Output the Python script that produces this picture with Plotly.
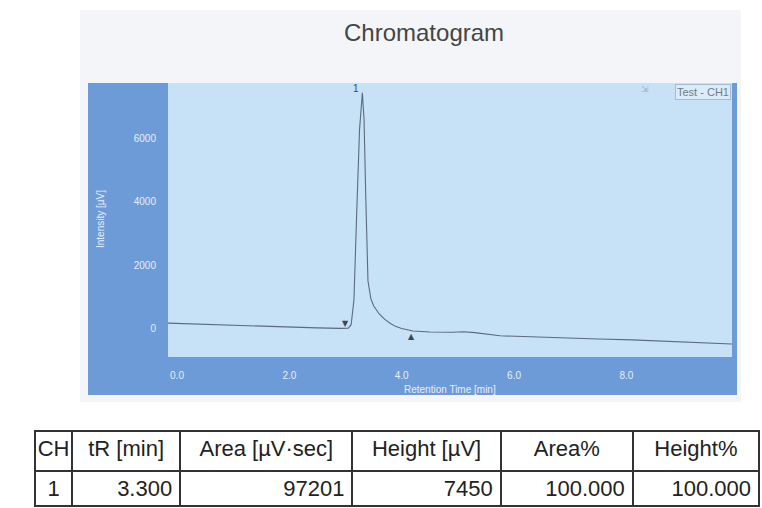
import numpy as np
import plotly.graph_objects as go

# ---- data -------------------------------------------------------------
PEAK_TR = 3.300        # retention time of peak 1 [min]
PEAK_HEIGHT = 7450     # peak height [uV]
PEAK_AREA = 97201      # peak area [uV*sec]
PEAK_START = 3.00      # integration start [min]
PEAK_END = 4.17        # integration end [min]

times = [-0.16, 0.5, 1.0, 1.5, 2.0, 2.5, 2.9, 3.00, 3.05, 3.10, 3.15, 3.20,
         3.25, PEAK_TR, 3.33, 3.36, 3.40, 3.45, 3.50, 3.60, 3.70, 3.80, 3.90,
         4.00, 4.10, 4.20, 4.50, 4.90, 5.10, 5.30, 5.75, 6.50, 7.00, 7.50,
         8.10, 9.00, 9.88]
intensity = [170, 130, 95, 70, 45, 20, 5, 0, 10, 120, 900, 3700,
             6300, PEAK_HEIGHT, 6600, 4200, 1500, 950, 720, 460, 290, 160, 60,
             0, -50, -80, -110, -120, -100, -130, -230, -280, -300, -330,
             -360, -420, -490]

x_ticks = [0, 2, 4, 6, 8]
x_tick_text = ["0.0", "2.0", "4.0", "6.0", "8.0"]
y_ticks = [0, 2000, 4000, 6000]
y_tick_text = ["0", "2000", "4000", "6000"]

table_header = ["CH", "tR [min]", "Area [µV·sec]", "Height [µV]", "Area%", "Height%"]
table_channel = [1]
table_tr = [PEAK_TR]
table_area = [PEAK_AREA]
table_height = [PEAK_HEIGHT]
table_area_pct = [100.000]
table_height_pct = [100.000]

# ---- geometry helpers (pixel -> paper) --------------------------------
W, H = 762, 508


def px(x):
    return x / W


def py(y):
    return (H - y) / H


PANEL_BLUE = "#6d9bd8"
PLOT_BLUE = "#c7e1f6"
LABEL_COL = "#e6eef9"

fig = go.Figure()

fig.add_trace(go.Scatter(
    x=times, y=intensity, mode="lines",
    line=dict(color="#5b6b7c", width=1.1),
    name="Test - CH1", showlegend=False, hoverinfo="skip",
    xaxis="x", yaxis="y",
))

fig.add_trace(go.Table(
    domain=dict(x=[px(35), px(759)], y=[0, py(431)]),
    columnwidth=[37, 108, 172, 148, 132, 126],
    header=dict(
        values=table_header, height=40, align="center",
        fill_color="white", line=dict(color="#333333", width=2),
        font=dict(family="Liberation Sans", size=22, color="#222222"),
    ),
    cells=dict(
        values=[table_channel,
                [f"{v:.3f}" for v in table_tr],
                [f"{v}" for v in table_area],
                [f"{v}" for v in table_height],
                [f"{v:.3f}" for v in table_area_pct],
                [f"{v:.3f}" for v in table_height_pct]],
        height=35, align=["center", "right", "right", "right", "right", "right"],
        fill_color="white", line=dict(color="#333333", width=2),
        font=dict(family="Liberation Sans", size=22, color="#222222"),
    ),
))

# background frame, blue panel and plotting area
shapes = [
    dict(type="rect", xref="paper", yref="paper", layer="below",
         x0=px(80), x1=px(741), y0=py(402), y1=py(10),
         fillcolor="#f3f5f8", line=dict(width=0)),
    dict(type="rect", xref="paper", yref="paper", layer="below",
         x0=px(88), x1=px(737), y0=py(395), y1=py(83),
         fillcolor=PANEL_BLUE, line=dict(width=0)),
    dict(type="rect", xref="x domain", yref="y domain", layer="below",
         x0=0, x1=1, y0=0, y1=1,
         fillcolor=PLOT_BLUE, line=dict(width=0)),
]

peak_start_y = float(np.interp(PEAK_START, times, intensity))
peak_end_y = float(np.interp(PEAK_END, times, intensity))

annotations = [
    dict(text="Chromatogram", xref="paper", yref="paper",
         x=px(424), y=py(32), xanchor="center", yanchor="middle",
         showarrow=False,
         font=dict(family="Liberation Sans", size=24, color="#454545")),
    dict(text="Intensity [µV]", xref="paper", yref="paper",
         x=px(100), y=py(219), xanchor="center", yanchor="middle",
         showarrow=False, textangle=-90,
         font=dict(family="Liberation Sans", size=10, color=LABEL_COL)),
    dict(text="Retention Time [min]", xref="paper", yref="paper",
         x=px(450), y=py(389), xanchor="center", yanchor="middle",
         showarrow=False,
         font=dict(family="Liberation Sans", size=10, color=LABEL_COL)),
    dict(text="1", x=PEAK_TR, y=PEAK_HEIGHT, xref="x", yref="y",
         showarrow=False, xshift=-6, yshift=4,
         font=dict(family="Liberation Sans", size=10, color="#3c4a58")),
    dict(text="▼", x=PEAK_START, y=peak_start_y, xref="x", yref="y",
         showarrow=False, yshift=5,
         font=dict(family="DejaVu Sans", size=8, color="#3a4756")),
    dict(text="▲", x=PEAK_END, y=peak_end_y, xref="x", yref="y",
         showarrow=False, yshift=-6,
         font=dict(family="DejaVu Sans", size=8, color="#3a4756")),
    dict(text="Test - CH1", xref="paper", yref="paper",
         x=px(731), y=py(84), xanchor="right", yanchor="top",
         showarrow=False, bgcolor="#dcebf8", bordercolor="#a9bccf",
         borderwidth=1, borderpad=1,
         font=dict(family="Liberation Sans", size=11, color="#6b7c8e")),
    dict(text="⇲", xref="paper", yref="paper",
         x=px(645), y=py(89), xanchor="center", yanchor="middle",
         showarrow=False,
         font=dict(family="DejaVu Sans", size=9, color="#9fb0c2")),
]

fig.update_layout(
    width=W, height=H,
    margin=dict(l=0, r=0, t=0, b=0),
    paper_bgcolor="white",
    plot_bgcolor=PLOT_BLUE,
    shapes=shapes,
    annotations=annotations,
    showlegend=False,
    xaxis=dict(
        domain=[px(168), px(732)], range=[-0.16, 9.88],
        tickvals=x_ticks, ticktext=x_tick_text,
        ticks="outside", ticklen=9, tickcolor="rgba(0,0,0,0)",
        tickfont=dict(family="Liberation Sans", size=10, color=LABEL_COL),
        showgrid=False, zeroline=False, showline=False, automargin=False,
    ),
    yaxis=dict(
        domain=[py(357), py(83)], range=[-900, 7758],
        tickvals=y_ticks, ticktext=y_tick_text,
        ticks="outside", ticklen=9, tickcolor="rgba(0,0,0,0)",
        tickfont=dict(family="Liberation Sans", size=10, color=LABEL_COL),
        showgrid=False, zeroline=False, showline=False, automargin=False,
    ),
)

fig.write_html("out.html")
